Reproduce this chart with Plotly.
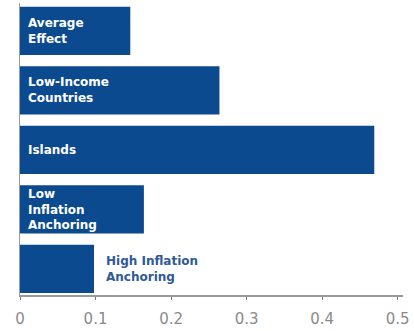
import plotly.graph_objects as go

categories = ["High Inflation<br>Anchoring", "Low<br>Inflation<br>Anchoring", "Islands",
              "Low-Income<br>Countries", "Average<br>Effect"]
values = [0.098, 0.164, 0.469, 0.264, 0.146]
inside = [False, True, True, True, True]
tick_vals = [0, 0.1, 0.2, 0.3, 0.4, 0.5]
tick_text = ["0", "0.1", "0.2", "0.3", "0.4", "0.5"]

bar_color = "#0c4a90"

fig = go.Figure(go.Bar(
    x=values, y=list(range(len(categories))), orientation="h",
    marker=dict(color=bar_color, line=dict(width=0)), width=0.81,
    hoverinfo="skip"))

anns = []
for i, (c, v, ins) in enumerate(zip(categories, values, inside)):
    anns.append(dict(
        x=0 if ins else v, y=i, text=c, xref="x", yref="y",
        xanchor="left", yanchor="middle", align="left",
        xshift=7 if ins else 11, showarrow=False, borderpad=0,
        font=dict(color="white" if ins else "#2f5a98", size=12,
                  family="DejaVu Sans", weight="bold")))

fig.update_layout(
    width=414, height=331, margin=dict(l=20, r=11, t=3, b=36),
    paper_bgcolor="white", plot_bgcolor="white", showlegend=False,
    annotations=anns,
    xaxis=dict(range=[0, 0.507], tickvals=tick_vals, ticktext=tick_text,
               showgrid=False, zeroline=False, showline=True, linecolor="#9a9a9a",
               linewidth=1.5, ticks="outside", ticklen=3, tickcolor="#777",
               ticklabelstandoff=6,
               tickfont=dict(size=15, color="#8a8a8a", family="DejaVu Sans")),
    yaxis=dict(range=[-0.44, 4.47], showticklabels=False, showgrid=False,
               zeroline=False, showline=True, linecolor="#a09a94", linewidth=1.2,
               ticks=""),
)

fig.write_html("out.html")
